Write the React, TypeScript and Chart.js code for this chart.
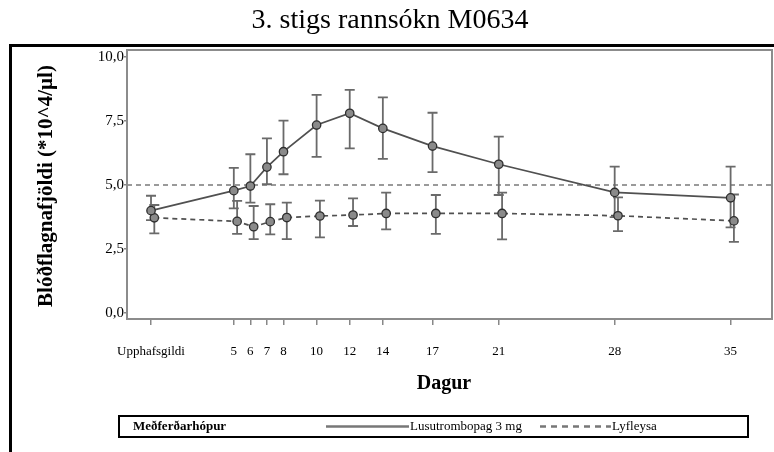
import React, { useEffect, useRef } from "react";
import { Chart, registerables } from "chart.js";

Chart.register(...registerables);

const TITLE = "3. stigs rannsókn M0634";
const Y_TITLE = "Blóðflagnafjöldi (*10^4/µl)";
const X_TITLE = "Dagur";
const LEGEND_TITLE = "Meðferðarhópur";
const SERIES_NAMES = ["Lusutrombopag 3 mg", "Lyfleysa"];

const DAYS = [0, 5, 6, 7, 8, 10, 12, 14, 17, 21, 28, 35];
const DAY_LABELS = ["Upphafsgildi", "5", "6", "7", "8", "10", "12", "14", "17", "21", "28", "35"];
const Y_TICKS = [0, 2.5, 5, 7.5, 10];
const REF_LINE = 5.0;

const LUSU_MEAN = [4.0, 4.78, 4.96, 5.7, 6.3, 7.34, 7.8, 7.21, 6.52, 5.81, 4.71, 4.5];
const LUSU_HIGH = [4.58, 5.67, 6.2, 6.82, 7.51, 8.52, 8.71, 8.42, 7.82, 6.89, 5.72, 5.72];
const LUSU_LOW = [3.63, 4.09, 4.31, 5.03, 5.42, 6.1, 6.43, 6.02, 5.5, 4.61, 3.75, 3.35];

const PLAC_MEAN = [3.72, 3.58, 3.37, 3.57, 3.73, 3.79, 3.83, 3.89, 3.89, 3.89, 3.8, 3.6];
const PLAC_HIGH = [4.22, 4.38, 4.18, 4.25, 4.31, 4.39, 4.48, 4.7, 4.61, 4.7, 4.52, 4.63];
const PLAC_LOW = [3.11, 3.09, 2.89, 3.07, 2.89, 2.96, 3.4, 3.27, 3.09, 2.88, 3.2, 2.78];

const PLACEBO_DODGE = 0.2;
const SERIF = "'Liberation Serif', 'Times New Roman', serif";

const ERRORS = [
  { low: LUSU_LOW, high: LUSU_HIGH },
  { low: PLAC_LOW, high: PLAC_HIGH },
];

const decorPlugin = {
  id: "decor",
  beforeDraw(chart: any) {
    const ctx = chart.ctx;
    ctx.save();
    ctx.fillStyle = "#fff";
    ctx.fillRect(0, 0, chart.width, chart.height);
    ctx.restore();
  },
  beforeDatasetsDraw(chart: any) {
    const ctx = chart.ctx;
    const area = chart.chartArea;
    const ys = chart.scales.y;
    ctx.save();
    const ry = ys.getPixelForValue(REF_LINE);
    ctx.strokeStyle = "#7a7a7a";
    ctx.lineWidth = 1.6;
    ctx.setLineDash([5, 4]);
    ctx.beginPath();
    ctx.moveTo(area.left, ry);
    ctx.lineTo(area.right, ry);
    ctx.stroke();
    ctx.setLineDash([]);
    ctx.strokeStyle = "#6a6a6a";
    ctx.lineWidth = 1.8;
    ERRORS.forEach((err, di) => {
      const meta = chart.getDatasetMeta(di);
      meta.data.forEach((pt: any, j: number) => {
        const x = pt.x;
        const yt = ys.getPixelForValue(err.high[j]);
        const yb = ys.getPixelForValue(err.low[j]);
        ctx.beginPath();
        ctx.moveTo(x, yt);
        ctx.lineTo(x, yb);
        ctx.moveTo(x - 5, yt);
        ctx.lineTo(x + 5, yt);
        ctx.moveTo(x - 5, yb);
        ctx.lineTo(x + 5, yb);
        ctx.stroke();
      });
    });
    ctx.restore();
  },
  afterDraw(chart: any) {
    const ctx = chart.ctx;
    const area = chart.chartArea;
    ctx.save();
    ctx.strokeStyle = "#8c8c8c";
    ctx.lineWidth = 2;
    ctx.strokeRect(area.left, area.top, area.right - area.left, area.bottom - area.top);

    ctx.strokeStyle = "#000";
    ctx.lineWidth = 3;
    ctx.beginPath();
    ctx.moveTo(10.5, chart.height);
    ctx.lineTo(10.5, 45.5);
    ctx.lineTo(chart.width, 45.5);
    ctx.stroke();

    ctx.fillStyle = "#000";
    ctx.textAlign = "center";
    ctx.textBaseline = "middle";
    ctx.font = `28px ${SERIF}`;
    ctx.fillText(TITLE, 390, 21);

    ctx.save();
    ctx.translate(47, 186);
    ctx.rotate(-Math.PI / 2);
    ctx.font = `bold 21px ${SERIF}`;
    ctx.fillText(Y_TITLE, 0, 0);
    ctx.restore();

    ctx.font = `bold 20px ${SERIF}`;
    ctx.fillText(X_TITLE, 444, 384);

    ctx.strokeStyle = "#000";
    ctx.lineWidth = 2;
    ctx.strokeRect(119, 416, 629, 21);
    ctx.textAlign = "left";
    ctx.font = `bold 13px ${SERIF}`;
    ctx.fillText(LEGEND_TITLE, 133, 427);
    ctx.font = `13px ${SERIF}`;
    ctx.strokeStyle = "#777";
    ctx.lineWidth = 2.5;
    ctx.beginPath();
    ctx.moveTo(326, 426.5);
    ctx.lineTo(409, 426.5);
    ctx.stroke();
    ctx.fillText(SERIES_NAMES[0], 410, 427);
    ctx.setLineDash([6, 5]);
    ctx.beginPath();
    ctx.moveTo(540, 426.5);
    ctx.lineTo(611, 426.5);
    ctx.stroke();
    ctx.setLineDash([]);
    ctx.fillText(SERIES_NAMES[1], 612, 427);
    ctx.restore();
  },
};

export default function App() {
  const ref = useRef<HTMLCanvasElement>(null);
  useEffect(() => {
    if (!ref.current) return;
    const pointStyle = {
      pointRadius: 4.2,
      pointBackgroundColor: "#8a8a8a",
      pointBorderColor: "#2e2e2e",
      pointBorderWidth: 1.3,
    };
    const chart = new Chart(ref.current, {
      type: "line",
      data: {
        datasets: [
          {
            label: SERIES_NAMES[0],
            data: DAYS.map((d, i) => ({ x: d, y: LUSU_MEAN[i] })),
            borderColor: "#505050",
            borderWidth: 1.7,
            ...pointStyle,
          },
          {
            label: SERIES_NAMES[1],
            data: DAYS.map((d, i) => ({ x: d + PLACEBO_DODGE, y: PLAC_MEAN[i] })),
            borderColor: "#505050",
            borderWidth: 1.7,
            borderDash: [5, 4],
            ...pointStyle,
          },
        ],
      },
      options: {
        animation: false,
        responsive: true,
        maintainAspectRatio: false,
        devicePixelRatio: 1,
        layout: { autoPadding: false, padding: { left: 0, right: 2, top: 50, bottom: 0 } },
        plugins: { legend: { display: false }, tooltip: { enabled: false }, title: { display: false } },
        scales: {
          x: {
            type: "linear",
            min: -1.45,
            max: 37.5,
            afterBuildTicks: (s: any) => {
              s.ticks = DAYS.map((d) => ({ value: d }));
            },
            afterFit: (s: any) => {
              s.height = 133;
              s.paddingLeft = 0;
              s.paddingRight = 0;
            },
            ticks: {
              autoSkip: false,
              maxRotation: 0,
              padding: 19,
              color: "#000",
              font: { family: SERIF, size: 13 },
              callback: (v: any) => {
                const i = DAYS.indexOf(Number(v));
                return i >= 0 ? DAY_LABELS[i] : "";
              },
            },
            grid: { display: true, drawOnChartArea: false, drawTicks: true, tickLength: 6, color: "#888", lineWidth: 1.5 },
            border: { display: false },
          },
          y: {
            type: "linear",
            min: -0.23,
            max: 10.27,
            afterBuildTicks: (s: any) => {
              s.ticks = Y_TICKS.map((v) => ({ value: v }));
            },
            afterFit: (s: any) => {
              s.width = 127;
              s.paddingTop = 0;
              s.paddingBottom = 0;
            },
            ticks: {
              padding: 0,
              color: "#000",
              font: { family: SERIF, size: 15 },
              callback: (v: any) => Number(v).toFixed(1).replace(".", ","),
            },
            grid: { display: true, drawOnChartArea: false, drawTicks: true, tickLength: 3, color: "#888", lineWidth: 1.5 },
            border: { display: false },
          },
        },
      },
      plugins: [decorPlugin],
    } as any);
    return () => chart.destroy();
  }, []);
  return (
    <div style={{ position: "fixed", left: 0, top: 0, width: 774, height: 452, background: "#fff" }}>
      <canvas ref={ref} />
    </div>
  );
}
